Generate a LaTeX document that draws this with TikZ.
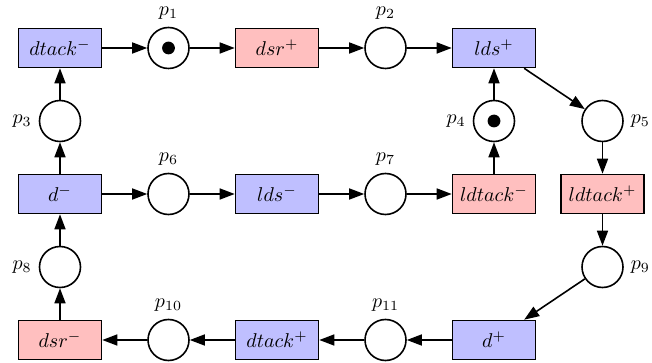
\documentclass[tikz,border=0pt]{standalone}
\usepackage{amsmath,amssymb}
\usepackage{tikz}
\usetikzlibrary{arrows.meta,positioning}

\tikzset{
  trans/.style={draw,thick,minimum width=41.5pt,minimum height=19.5pt,inner sep=1pt},
  tblue/.style={trans,fill=blue!25},
  tred/.style={trans,fill=red!25},
  place/.style={draw,thick,circle,minimum size=20.5pt,inner sep=0pt},
  flow/.style={thick,-{Triangle[length=7.5pt,width=5.5pt]}},
}

\begin{document}
\begin{tikzpicture}[x=54.25pt,y=36.5pt]
  \useasboundingbox (-30pt,24pt) rectangle (296pt,-157.5pt);
  % top row
  \node[tblue] (dtm) at (0,0) {$dtack^-$};
  \node[place,label=above:$p_1$] (p1) at (1,0) {};
  \node[tred] (dsp) at (2,0) {$dsr^+$};
  \node[place,label=above:$p_2$] (p2) at (3,0) {};
  \node[tblue] (ldsp) at (4,0) {$lds^+$};
  % second row
  \node[place,label=left:$p_3$] (p3) at (0,-1) {};
  \node[place,label=left:$p_4$] (p4) at (4,-1) {};
  \node[place,label=right:$p_5$] (p5) at (5,-1) {};
  % middle row
  \node[tblue] (dm) at (0,-2) {$d^-$};
  \node[place,label=above:$p_6$] (p6) at (1,-2) {};
  \node[tblue] (ldsm) at (2,-2) {$lds^-$};
  \node[place,label=above:$p_7$] (p7) at (3,-2) {};
  \node[tred] (ldtm) at (4,-2) {$ldtack^-$};
  \node[tred] (ldtp) at (5,-2) {$ldtack^+$};
  % fourth row
  \node[place,label=left:$p_8$] (p8) at (0,-3) {};
  \node[place,label=right:$p_9$] (p9) at (5,-3) {};
  % bottom row
  \node[tred] (dsm) at (0,-4) {$dsr^-$};
  \node[place,label=above:$p_{10}$] (p10) at (1,-4) {};
  \node[tblue] (dtp) at (2,-4) {$dtack^+$};
  \node[place,label=above:$p_{11}$] (p11) at (3,-4) {};
  \node[tblue] (dp) at (4,-4) {$d^+$};
  % tokens
  \fill (p1.center) circle (3.2pt);
  \fill (p4.center) circle (3.2pt);
  % arcs
  \foreach \a/\b in {dtm/p1,p1/dsp,dsp/p2,p2/ldsp,ldsp/p5,p5/ldtp,ldtp/p9,p9/dp,
      dp/p11,p11/dtp,dtp/p10,p10/dsm,dsm/p8,p8/dm,dm/p3,p3/dtm,
      dm/p6,p6/ldsm,ldsm/p7,p7/ldtm,ldtm/p4,p4/ldsp}
    \draw[flow] (\a) -- (\b);
\end{tikzpicture}
\end{document}
